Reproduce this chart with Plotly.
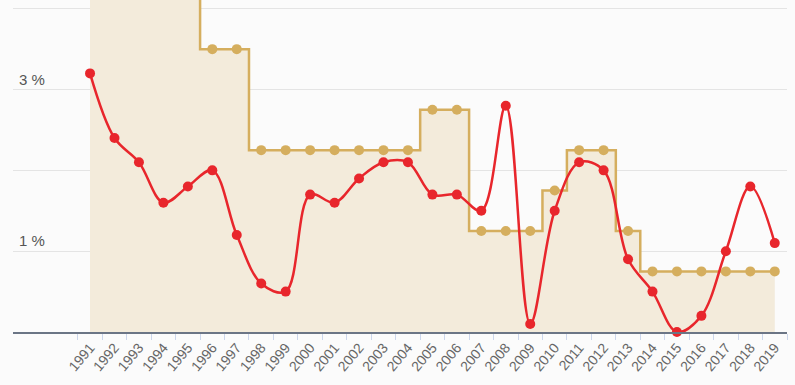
import plotly.graph_objects as go

years = [str(y) for y in range(1991, 2020)]
inflation = [3.2, 2.4, 2.1, 1.6, 1.8, 2.0, 1.2, 0.6, 0.5, 1.7,
             1.6, 1.9, 2.1, 2.1, 1.7, 1.7, 1.5, 2.8, 0.1, 1.5,
             2.1, 2.0, 0.9, 0.5, 0.0, 0.2, 1.0, 1.8, 1.1]
rate = [4.5, 4.5, 4.5, 4.5, 4.5, 3.5, 3.5, 2.25, 2.25, 2.25,
        2.25, 2.25, 2.25, 2.25, 2.75, 2.75, 1.25, 1.25, 1.25, 1.75,
        2.25, 2.25, 1.25, 0.75, 0.75, 0.75, 0.75, 0.75, 0.75]
y_tickvals = [0, 1, 2, 3, 4]
y_ticktext = ["", "1 %", "", "3 %", ""]

GOLD = "#d5ae5e"
FILL = "#f3ebdb"
RED = "#e8262c"

fig = go.Figure()
fig.add_trace(go.Scatter(
    x=years, y=rate, mode="lines+markers",
    line=dict(color=GOLD, width=2.5, shape="hvh"),
    marker=dict(color=GOLD, size=10),
    fill="tozeroy", fillcolor=FILL,
    hoverinfo="skip", showlegend=False,
))
fig.add_trace(go.Scatter(
    x=years, y=inflation, mode="lines+markers",
    line=dict(color=RED, width=2.5, shape="spline", smoothing=1),
    marker=dict(color=RED, size=10),
    cliponaxis=False, showlegend=False,
))

fig.update_layout(
    width=795, height=385,
    margin=dict(l=13, r=8, t=0, b=53),
    paper_bgcolor="#fbfbfb", plot_bgcolor="#fbfbfb",
    font=dict(family="Liberation Sans, Arial, sans-serif", color="#666666"),
)
fig.update_xaxes(
    type="category", categoryorder="array", categoryarray=years,
    range=[-3.15, 28.5],
    tickson="boundaries", ticks="outside", ticklen=6, tickcolor="#ccd6eb", tickwidth=1,
    tickangle=-50, tickfont=dict(size=14, color="#666666"),
    showgrid=False, showline=True, linecolor="#6b7585", linewidth=2,
    zeroline=False, fixedrange=True,
)
fig.update_yaxes(
    range=[0, 4.108], tickvals=y_tickvals, ticktext=y_ticktext,
    ticklabelposition="inside", ticklabelshift=-10, ticklabelstandoff=3,
    tickfont=dict(size=15, color="#555555"),
    showgrid=True, gridcolor="#e4e4e4", gridwidth=1,
    zeroline=False, showline=False, ticks="", fixedrange=True,
)

fig.write_html(
    "out.html",
    config={"displayModeBar": False},
    post_script="document.body.style.margin='0';document.body.style.padding='0';",
)
